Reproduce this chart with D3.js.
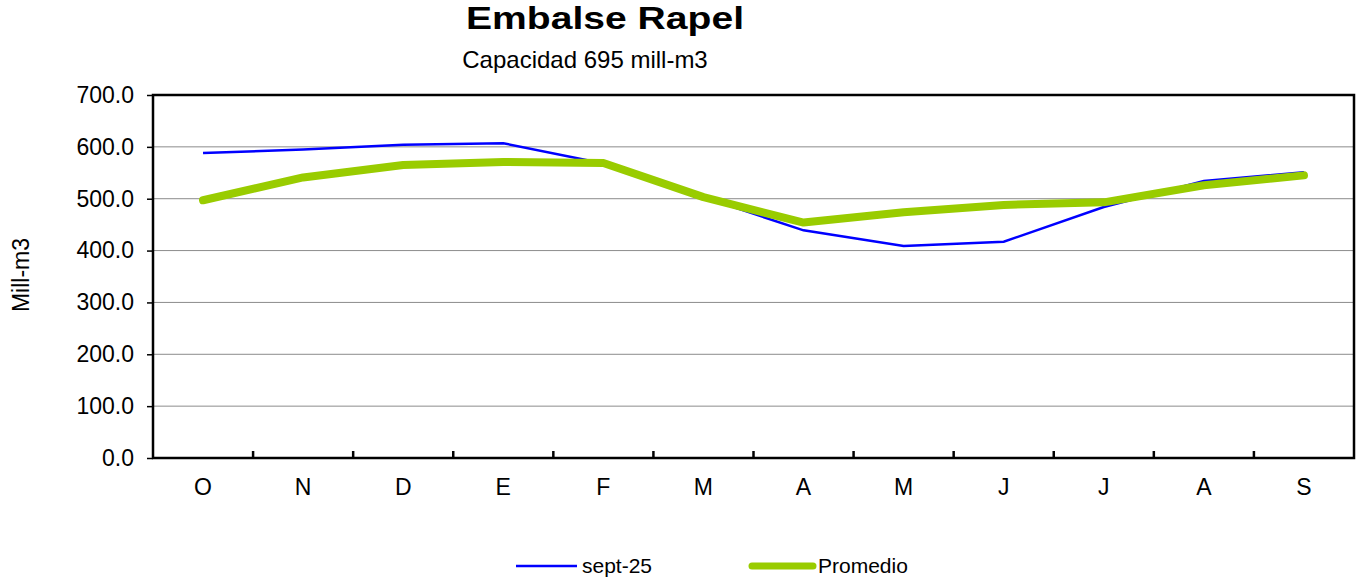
<!DOCTYPE html>
<html>
<head>
<meta charset="utf-8">
<script src="https://cdn.jsdelivr.net/npm/d3@7"></script>
<style>
  body { margin: 0; background: #fff; }
  text { font-family: "Liberation Sans", Arial, sans-serif; }
</style>
</head>
<body>
<div id="chart"></div>
<script>
// month labels (Oct -> Sep)
var months = ["O", "N", "D", "E", "F", "M", "A", "M", "J", "J", "A", "S"];
var sept25 = [588, 595, 604, 607, 568, 503, 439, 409, 417, 484, 534, 551];
var promedio = [497, 541, 565, 571, 569, 503, 454, 474, 488, 493, 526, 545];
var yTicks = [0, 100, 200, 300, 400, 500, 600, 700];

var width = 1368, height = 577;
var margin = {top: 95, right: 14, bottom: 119, left: 153};
var innerW = width - margin.left - margin.right,
    innerH = height - margin.top - margin.bottom;

var svg = d3.select("#chart").append("svg")
    .attr("width", width)
    .attr("height", height);

var idx = d3.range(months.length);
var x = d3.scaleBand().domain(idx).range([0, innerW]);
var y = d3.scaleLinear().domain([0, 700]).range([innerH, 0]);

var g = svg.append("g")
    .attr("transform", "translate(" + margin.left + "," + margin.top + ")");

// gridlines
g.selectAll("line.grid")
    .data(yTicks.filter(function(d) { return d > 0 && d < 700; }))
    .enter().append("line")
    .attr("class", "grid")
    .attr("x1", 0).attr("x2", innerW)
    .attr("y1", function(d) { return y(d); })
    .attr("y2", function(d) { return y(d); })
    .attr("stroke", "#8c8c8c")
    .attr("stroke-width", 1);

// y axis
var yAxis = g.append("g")
    .call(d3.axisLeft(y).tickValues(yTicks).tickSize(6).tickPadding(13)
        .tickFormat(d3.format(".1f")));
yAxis.select(".domain").remove();
yAxis.selectAll("line").attr("stroke", "#000").attr("stroke-width", 1.5);
yAxis.selectAll("text")
    .style("font-size", "23px")
    .attr("fill", "#000");

// x ticks between categories, pointing inwards
g.selectAll("line.xtick")
    .data(idx.slice(1))
    .enter().append("line")
    .attr("class", "xtick")
    .attr("x1", function(d) { return x(d); })
    .attr("x2", function(d) { return x(d); })
    .attr("y1", innerH).attr("y2", innerH - 7)
    .attr("stroke", "#000").attr("stroke-width", 2.5);

g.selectAll("text.xlab")
    .data(idx)
    .enter().append("text")
    .attr("class", "xlab")
    .attr("x", function(d) { return x(d) + x.bandwidth() / 2; })
    .attr("y", innerH + 37)
    .attr("text-anchor", "middle")
    .style("font-size", "23px")
    .text(function(d) { return months[d]; });

// frame
g.append("rect")
    .attr("x", 0).attr("y", 0)
    .attr("width", innerW).attr("height", innerH)
    .attr("fill", "none")
    .attr("stroke", "#000")
    .attr("stroke-width", 2.5);

var line = d3.line()
    .x(function(d, i) { return x(i) + x.bandwidth() / 2; })
    .y(function(d) { return y(d); });

g.append("path")
    .datum(sept25)
    .attr("d", line)
    .attr("fill", "none")
    .attr("stroke", "#0000ff")
    .attr("stroke-width", 2.5);

g.append("path")
    .datum(promedio)
    .attr("d", line)
    .attr("fill", "none")
    .attr("stroke", "#99cc00")
    .attr("stroke-width", 8)
    .attr("stroke-linecap", "round")
    .attr("stroke-linejoin", "round");

// titles
svg.append("text")
    .attr("x", 605).attr("y", 29)
    .attr("text-anchor", "middle")
    .style("font-weight", "bold")
    .style("font-size", "32px")
    .attr("textLength", 278)
    .attr("lengthAdjust", "spacingAndGlyphs")
    .text("Embalse Rapel");

svg.append("text")
    .attr("x", 585).attr("y", 68)
    .attr("text-anchor", "middle")
    .style("font-size", "24px")
    .text("Capacidad 695 mill-m3");

svg.append("text")
    .attr("transform", "translate(29," + 275 + ") rotate(-90)")
    .attr("text-anchor", "middle")
    .style("font-size", "23px")
    .text("Mill-m3");

// legend
var legendItems = [
    {name: "sept-25", color: "#0000ff", w: 2.5, x: 516},
    {name: "Promedio", color: "#99cc00", w: 7, x: 752}
];
var lg = svg.append("g").selectAll("g")
    .data(legendItems)
    .enter().append("g")
    .attr("transform", function(d) { return "translate(" + d.x + ",566)"; });
lg.append("line")
    .attr("x1", 0).attr("x2", 61)
    .attr("stroke", function(d) { return d.color; })
    .attr("stroke-width", function(d) { return d.w; })
    .attr("stroke-linecap", function(d) { return d.w > 3 ? "round" : "butt"; });
lg.append("text")
    .attr("x", 66).attr("y", 7)
    .style("font-size", "21px")
    .text(function(d) { return d.name; });
</script>
</body>
</html>
